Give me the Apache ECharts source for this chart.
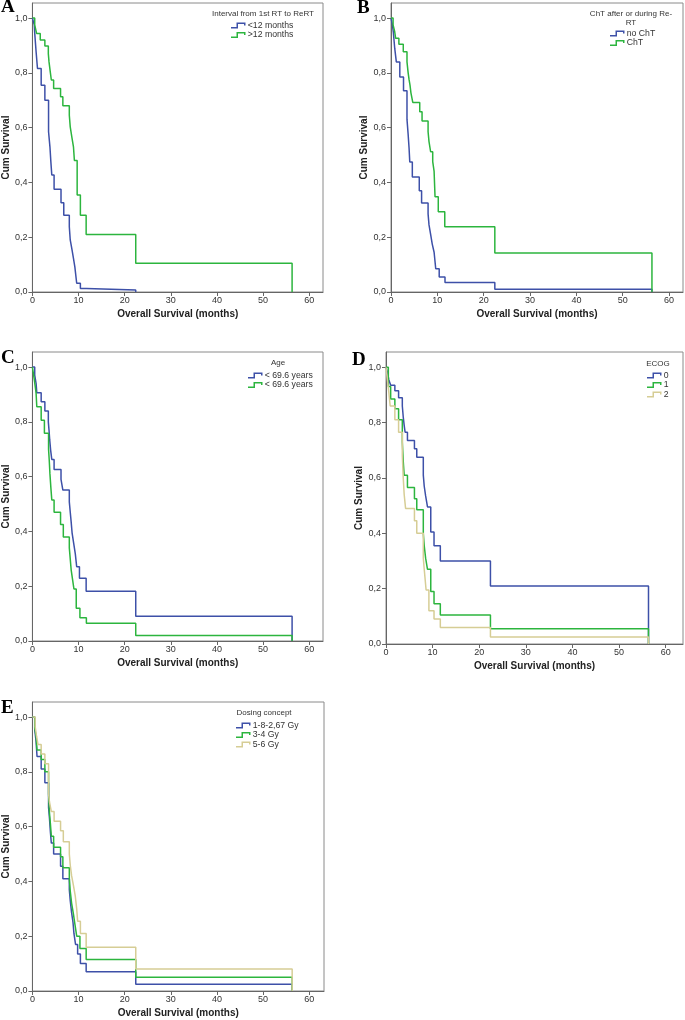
<!DOCTYPE html>
<html><head><meta charset="utf-8">
<script src="https://cdn.jsdelivr.net/npm/echarts@6/dist/echarts.min.js"></script>
<style>html,body{margin:0;padding:0;background:#fff}#c{width:685px;height:1020px}</style>
</head><body><div id="c"></div>
<script>
// ---- tick labels ----
const X_TICKS = [0, 10, 20, 30, 40, 50, 60];
const Y_TICKS = [0, 0.2, 0.4, 0.6, 0.8, 1.0];

// ---- Panel A: Interval from 1st RT to ReRT  ([months, cum survival]) ----
const A_lt12 = [[0,1],[0.4,0.975],[0.5,0.945],[0.8,0.877],[1.1,0.816],[1.9,0.755],[2.7,0.70],[3.5,0.585],[3.8,0.53],[4.0,0.475],[4.2,0.427],[4.7,0.375],[6.2,0.326],[6.8,0.28],[8.0,0.238],[8.2,0.19],[8.6,0.153],[8.9,0.123],[9.2,0.092],[9.6,0.032],[10.4,0.013],[11.7,0.007],[22.4,0]];
const A_gt12 = [[0,1],[0.5,0.975],[0.9,0.944],[1.7,0.92],[2.7,0.898],[3.45,0.87],[3.6,0.84],[3.9,0.80],[4.1,0.774],[4.6,0.743],[6.1,0.713],[6.6,0.68],[8.0,0.645],[8.2,0.603],[8.55,0.565],[8.9,0.53],[9.1,0.48],[9.7,0.354],[10.4,0.28],[11.65,0.21],[22.4,0.105],[56.3,0]];

// ---- Panel B: ChT after or during Re-RT ----
const B_noChT = [[0,1],[0.3,0.975],[0.5,0.949],[0.8,0.89],[1.15,0.84],[1.9,0.785],[2.7,0.735],[3.45,0.63],[3.7,0.575],[3.9,0.525],[4.05,0.475],[4.6,0.42],[6.1,0.37],[6.6,0.325],[8.0,0.285],[8.2,0.245],[8.55,0.21],[8.9,0.175],[9.3,0.145],[9.65,0.085],[10.4,0.055],[11.65,0.035],[22.4,0.01],[56.3,0]];
const B_ChT = [[0,1],[0.45,0.975],[0.8,0.95],[1.0,0.926],[1.7,0.904],[2.65,0.877],[3.45,0.84],[3.7,0.80],[3.9,0.775],[4.1,0.755],[4.3,0.727],[4.7,0.692],[6.2,0.658],[6.7,0.624],[8.0,0.585],[8.2,0.549],[8.55,0.512],[9.0,0.476],[9.3,0.44],[9.5,0.348],[10.2,0.293],[11.6,0.238],[22.4,0.142],[56.3,0]];

// ---- Panel C: Age ----
const C_age1 = [[0,1],[0.5,0.971],[0.8,0.94],[0.95,0.906],[1.9,0.873],[2.7,0.84],[3.45,0.80],[3.6,0.77],[3.75,0.734],[3.95,0.697],[4.2,0.663],[4.7,0.626],[6.2,0.59],[6.6,0.551],[8.0,0.508],[8.2,0.471],[8.4,0.435],[8.6,0.395],[8.95,0.356],[9.3,0.318],[9.6,0.271],[10.2,0.229],[11.65,0.182],[22.4,0.09],[56.3,0]];
const C_age2 = [[0,1],[0.4,0.955],[0.6,0.93],[0.8,0.904],[0.95,0.855],[1.9,0.806],[2.6,0.758],[3.5,0.70],[3.65,0.66],[3.8,0.61],[4.0,0.56],[4.2,0.515],[4.7,0.47],[6.1,0.425],[6.7,0.38],[8.0,0.34],[8.2,0.30],[8.4,0.26],[8.7,0.225],[9.0,0.19],[9.5,0.12],[10.3,0.085],[11.7,0.065],[22.4,0.02],[56.3,0]];

// ---- Panel D: ECOG ----
const D_ecog0 = [[0,1],[0.4,0.975],[0.6,0.955],[1.0,0.935],[1.9,0.915],[2.7,0.89],[3.5,0.86],[3.7,0.82],[3.9,0.79],[4.1,0.765],[4.6,0.735],[6.1,0.705],[6.6,0.675],[8.0,0.61],[8.2,0.57],[8.5,0.535],[8.9,0.495],[9.6,0.405],[10.3,0.355],[11.65,0.30],[22.4,0.21],[56.3,0]];
const D_ecog1 = [[0,1],[0.5,0.93],[1.0,0.885],[1.9,0.85],[2.7,0.81],[3.5,0.73],[3.7,0.66],[3.9,0.61],[4.6,0.565],[6.1,0.525],[6.6,0.485],[8.0,0.40],[8.2,0.355],[8.5,0.31],[8.9,0.27],[9.6,0.19],[10.3,0.145],[11.65,0.105],[22.4,0.055],[56.3,0]];
const D_ecog2 = [[0,1],[0.3,0.955],[0.6,0.91],[0.9,0.86],[1.9,0.81],[2.7,0.765],[3.5,0.68],[3.7,0.60],[3.9,0.54],[4.2,0.49],[6.1,0.445],[6.6,0.40],[8.0,0.31],[8.2,0.27],[8.6,0.195],[9.2,0.12],[10.3,0.09],[11.65,0.06],[22.4,0.025],[56.3,0]];

// ---- Panel E: Dosing concept ----
const E_dose1 = [[0,1],[0.5,0.955],[0.8,0.91],[1.0,0.856],[1.9,0.81],[2.7,0.76],[3.5,0.67],[3.7,0.63],[3.9,0.58],[4.1,0.54],[4.6,0.50],[6.1,0.455],[6.6,0.41],[8.0,0.37],[8.2,0.33],[8.5,0.285],[8.8,0.25],[9.0,0.21],[9.35,0.17],[9.8,0.135],[10.4,0.10],[11.65,0.07],[22.4,0.025],[56.3,0]];
const E_dose2 = [[0,1],[0.5,0.96],[0.8,0.93],[1.0,0.88],[1.9,0.845],[2.7,0.80],[3.5,0.72],[3.7,0.65],[3.9,0.61],[4.1,0.565],[4.6,0.525],[6.1,0.49],[6.6,0.45],[8.0,0.41],[8.2,0.365],[8.5,0.32],[8.9,0.28],[9.2,0.245],[9.6,0.20],[10.3,0.155],[11.65,0.115],[22.4,0.05],[56.3,0]];
const E_dose3 = [[0,1],[0.6,0.965],[0.9,0.93],[1.2,0.90],[1.9,0.865],[2.7,0.83],[3.5,0.72],[3.7,0.69],[4.1,0.655],[4.7,0.62],[6.1,0.585],[6.7,0.545],[8.0,0.50],[8.2,0.46],[8.5,0.42],[8.9,0.385],[9.3,0.345],[9.6,0.30],[9.8,0.255],[10.4,0.21],[11.65,0.16],[22.4,0.08],[56.3,0]];

// ---- styling ----
const BLUE = '#3d50a8', GREEN = '#2cb53e', BEIGE = '#d6cd95';
const FONT = '"Liberation Sans", Arial, sans-serif';
const STEP_ICON = 'path://M0,9L11,9L11,0L29,0L29,6L26,6L26,3L14,3L14,12L0,12Z';

const panels = [
  { letter:'A', letterPos:{left:1, top:-2}, grid:{left:31, top:3, width:292, height:289}, xMax:63.0,
    lTitle:'Interval from 1st RT to ReRT', lTitlePos:{left:263, top:10}, legendPos:{left:231, top:21},
    series:[{id:'A0', label:'<12 months', data:A_lt12, color:BLUE},{id:'A1', label:'>12 months', data:A_gt12, color:GREEN}] },
  { letter:'B', letterPos:{left:357, top:-1}, grid:{left:391, top:3, width:292, height:289}, xMax:63.0,
    lTitle:'ChT after or during Re-\nRT', lTitlePos:{left:631, top:10}, legendPos:{left:610, top:29},
    series:[{id:'B0', label:'no ChT', data:B_noChT, color:BLUE},{id:'B1', label:'ChT', data:B_ChT, color:GREEN}] },
  { letter:'C', letterPos:{left:1, top:349}, grid:{left:31, top:352, width:292, height:289}, xMax:63.0,
    lTitle:'Age', lTitlePos:{left:278, top:359}, legendPos:{left:248, top:371},
    series:[{id:'C0', label:'< 69.6 years', data:C_age1, color:BLUE},{id:'C1', label:'< 69.6 years', data:C_age2, color:GREEN}] },
  { letter:'D', letterPos:{left:352, top:351}, grid:{left:386, top:352, width:297, height:292}, xMax:63.7,
    lTitle:'ECOG', lTitlePos:{left:658, top:360}, legendPos:{left:647, top:371},
    series:[{id:'D0', label:'0', data:D_ecog0, color:BLUE},{id:'D1', label:'1', data:D_ecog1, color:GREEN},{id:'D2', label:'2', data:D_ecog2, color:BEIGE}] },
  { letter:'E', letterPos:{left:1, top:699}, grid:{left:31, top:702, width:293, height:289}, xMax:63.2,
    lTitle:'Dosing concept', lTitlePos:{left:264, top:709}, legendPos:{left:236, top:721},
    series:[{id:'E0', label:'1-8-2,67 Gy', data:E_dose1, color:BLUE},{id:'E1', label:'3-4 Gy', data:E_dose2, color:GREEN},{id:'E2', label:'5-6 Gy', data:E_dose3, color:BEIGE}] }
];

const labelMap = {};
panels.forEach(p => p.series.forEach(s => { labelMap[s.id] = s.label; }));

const option = {
  animation: false,
  backgroundColor: '#fff',
  title: [], grid: [], xAxis: [], yAxis: [], legend: [], series: []
};

panels.forEach((p, i) => {
  option.title.push({ text: p.letter, left: p.letterPos.left, top: p.letterPos.top, padding: 0,
    textStyle: { fontFamily: '"Liberation Serif", "Times New Roman", serif', fontWeight: 'bold', fontSize: 19, color: '#000' } });
  option.title.push({ text: p.lTitle, left: p.lTitlePos.left, top: p.lTitlePos.top, padding: 0, textAlign: 'center',
    textStyle: { fontFamily: FONT, fontWeight: 'normal', fontSize: 8, lineHeight: 8.5, color: '#333' } });
  option.grid.push(Object.assign({ show: true, borderColor: '#8a8a8a', borderWidth: 1, backgroundColor: 'transparent', containLabel: false }, p.grid));
  option.xAxis.push({
    type: 'value', gridIndex: i, min: 0, max: p.xMax, interval: 10,
    axisLine: { show: true, onZero: false, lineStyle: { color: '#666', width: 1 } },
    axisTick: { show: true, length: 4, customValues: X_TICKS, lineStyle: { color: '#666' } },
    axisLabel: { customValues: X_TICKS, fontSize: 9, color: '#333', margin: 4, fontFamily: FONT },
    splitLine: { show: false },
    name: 'Overall Survival (months)', nameLocation: 'middle', nameGap: 17,
    nameTextStyle: { fontFamily: FONT, fontWeight: 'bold', fontSize: 10, color: '#222' }
  });
  option.yAxis.push({
    type: 'value', gridIndex: i, min: 0, max: 1.055, interval: 0.2,
    axisLine: { show: true, onZero: false, lineStyle: { color: '#666', width: 1 } },
    axisTick: { show: true, length: 4, customValues: Y_TICKS, lineStyle: { color: '#666' } },
    axisLabel: { customValues: Y_TICKS, fontSize: 9, color: '#333', margin: 5, fontFamily: FONT,
      formatter: v => v.toFixed(1).replace('.', ',') },
    splitLine: { show: false },
    name: 'Cum Survival', nameLocation: 'middle', nameGap: 19, nameRotate: 90,
    nameTextStyle: { fontFamily: FONT, fontWeight: 'bold', fontSize: 10, color: '#222' }
  });
  option.legend.push({
    data: p.series.map(s => s.id), left: p.legendPos.left, top: p.legendPos.top, orient: 'vertical',
    itemWidth: 15, itemHeight: 6, itemGap: 0.5, icon: STEP_ICON, selectedMode: false, padding: 0,
    itemStyle: { borderWidth: 0 },
    formatter: n => labelMap[n],
    textStyle: { fontFamily: FONT, fontSize: 8.7, lineHeight: 9, color: '#333', padding: [0, 0, 0, -3] }
  });
  p.series.forEach(s => {
    option.series.push({
      type: 'line', name: s.id, xAxisIndex: i, yAxisIndex: i, data: s.data, step: 'end',
      symbol: 'none', showSymbol: false, color: s.color,
      lineStyle: { width: 1.5, color: s.color }, itemStyle: { color: s.color },
      emphasis: { disabled: true }
    });
  });
});

const chart = echarts.init(document.getElementById('c'), null, { renderer: 'canvas' });
chart.setOption(option);
</script></body></html>
